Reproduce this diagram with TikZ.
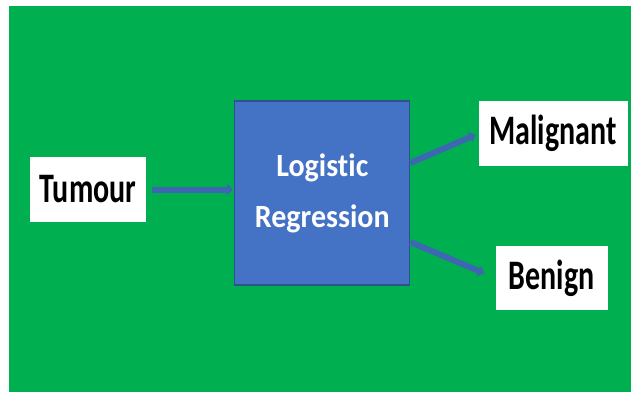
\documentclass[tikz,border=0pt]{standalone}
\usepackage{fontspec}
\setmainfont{Carlito}[Ligatures=NoCommon]
\usepackage{graphicx}
\usetikzlibrary{positioning,calc,arrows.meta}

\definecolor{slidegreen}{HTML}{00B050}
\definecolor{lrblue}{HTML}{4472C4}
\definecolor{lrborder}{HTML}{2F528F}

\newcommand{\stretchtext}[1]{\scalebox{1}[1.4]{#1}}

\begin{document}
\begin{tikzpicture}[
    x=1pt, y=1pt,
    classbox/.style={rectangle, fill=white, inner sep=0pt, minimum height=65pt, font=\fontsize{30}{36}\selectfont\bfseries},
    lrbox/.style={rectangle, draw=lrborder, line width=1.2pt, fill=lrblue, inner sep=0pt, minimum width=175pt, minimum height=184pt, align=center, text=white, font=\fontsize{30}{51}\selectfont\bfseries},
    arrow/.style={-{Triangle[length=6pt,width=11pt]}, line width=6pt, draw=lrblue!90!black}
]
    % slide background
    \fill[white] (0,0) rectangle (631,392);
    \fill[slidegreen] (9,0) rectangle (631,386);

    \node[classbox, minimum width=116pt] (tumour) at (88,202.5) {\stretchtext{Tumour}};
    \node[lrbox, right=88pt of tumour, yshift=-3.5pt] (logreg) {\scalebox{1}[1.08]{Logistic}\\\scalebox{1}[1.08]{Regression}};
    \node[classbox, minimum width=149pt, right=68pt of logreg, yshift=59.5pt] (malignant) {\stretchtext{Malignant}};
    \node[classbox, minimum width=112pt, minimum height=64pt, right=85pt of logreg, yshift=-85pt] (benign) {\stretchtext{Benign}};

    \draw[arrow, shorten <=6pt, shorten >=1pt] (tumour.east) -- (tumour.east -| logreg.west);
    \draw[arrow, shorten >=3pt] ($(logreg.east)+(0,30)$) -- (malignant.west);
    \draw[arrow, shorten >=12pt] ($(logreg.east)+(0,-49)$) -- (benign.west);
\end{tikzpicture}
\end{document}
